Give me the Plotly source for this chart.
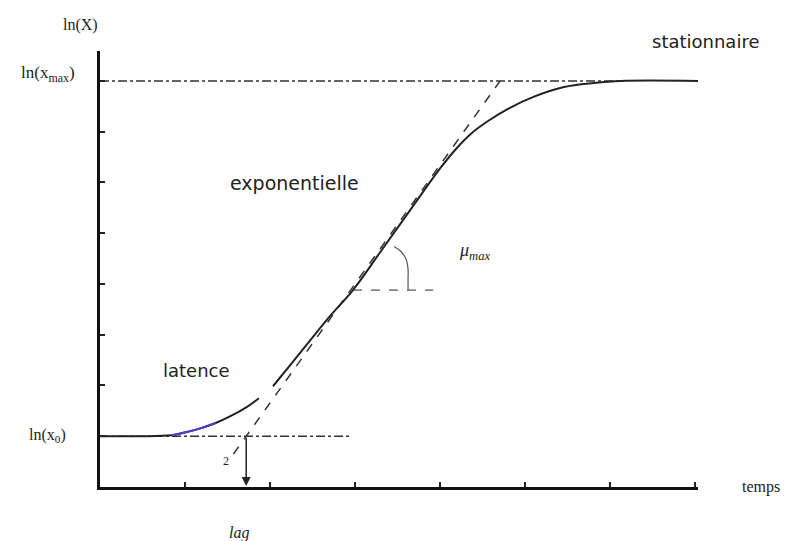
import plotly.graph_objects as go

# ---- data ----
latence_t = [0.0, 0.48, 0.84, 1.01, 1.19, 1.36, 1.54, 1.72, 1.87]
latence_y = [1.0, 1.0, 1.02, 1.08, 1.16, 1.26, 1.40, 1.57, 1.75]

croissance_t = [2.035, 2.247, 2.482, 2.718, 2.976, 3.306, 3.659, 4.012, 4.188,
                4.365, 4.565, 4.800, 5.106, 5.459, 5.812, 6.129, 7.035]
croissance_y = [1.985, 2.42, 2.91, 3.39, 3.88, 4.65, 5.48, 6.30, 6.66,
                6.96, 7.21, 7.45, 7.69, 7.88, 7.96, 8.0, 8.0]

surlignage_t = [0.84, 1.01, 1.19, 1.36]
surlignage_y = [1.02, 1.08, 1.16, 1.26]

ln_x0 = 1.0
ln_xmax = 8.0
lag = 1.72
mu_max = 2.344            # pente de la tangente
tangente_y = [0.65, 8.0]  # extension de la tangente

palier_t = [2.976, 3.92]
palier_y = [3.88, 3.88]
arc_t = [3.459, 3.541, 3.60, 3.624, 3.624, 3.624]
arc_y = [4.74, 4.64, 4.49, 4.29, 4.10, 3.88]

x0_line_t = [0.0, 2.95]
xmax_line_t = [0.0, 6.1]

x_ticks = [1, 2, 3, 4, 5, 6, 7]
y_ticks = [1, 2, 3, 4, 5, 6, 7, 8]

tangente_t = [lag + (v - ln_x0) / mu_max for v in tangente_y]

fig = go.Figure()

dash_col = "#333333"
fig.add_trace(go.Scatter(x=xmax_line_t, y=[ln_xmax, ln_xmax], mode="lines",
                         line=dict(color=dash_col, width=1.6, dash="dashdot"),
                         hoverinfo="skip", cliponaxis=False))
fig.add_trace(go.Scatter(x=x0_line_t, y=[ln_x0, ln_x0], mode="lines",
                         line=dict(color=dash_col, width=1.6, dash="dashdot"),
                         hoverinfo="skip", cliponaxis=False))
fig.add_trace(go.Scatter(x=tangente_t, y=tangente_y, mode="lines",
                         line=dict(color=dash_col, width=1.5, dash="dash"),
                         hoverinfo="skip"))
fig.add_trace(go.Scatter(x=palier_t, y=palier_y, mode="lines",
                         line=dict(color="#555555", width=1.2, dash="dash"),
                         hoverinfo="skip"))
fig.add_trace(go.Scatter(x=arc_t, y=arc_y, mode="lines", line_shape="spline",
                         line=dict(color="#555555", width=1.2),
                         hoverinfo="skip"))
fig.add_trace(go.Scatter(x=latence_t, y=latence_y, mode="lines", line_shape="spline",
                         line=dict(color="#222222", width=2),
                         hoverinfo="skip", cliponaxis=False))
fig.add_trace(go.Scatter(x=surlignage_t, y=surlignage_y, mode="lines", line_shape="spline",
                         line=dict(color="#4b3fd0", width=2),
                         hoverinfo="skip"))
fig.add_trace(go.Scatter(x=croissance_t, y=croissance_y, mode="lines", line_shape="spline",
                         line=dict(color="#222222", width=2),
                         hoverinfo="skip", cliponaxis=False))

serif = "Liberation Serif, DejaVu Serif, serif"
sans = "DejaVu Sans, Liberation Sans, sans-serif"

# text positions in paper coordinates
ann = [
    dict(x=-0.032, y=1.06, text="ln(X)", font=dict(family=serif, size=16)),
    dict(x=-0.087, y=0.947, text="ln(x<sub>max</sub>)", font=dict(family=serif, size=17)),
    dict(x=-0.087, y=0.117, text="ln(x<sub>0</sub>)", font=dict(family=serif, size=16)),
    dict(x=1.012, y=1.021, text="stationnaire", font=dict(family=sans, size=18)),
    dict(x=0.325, y=0.698, text="exponentielle", font=dict(family=sans, size=19)),
    dict(x=0.162, y=0.268, text="latence", font=dict(family=sans, size=18)),
    dict(x=0.627, y=0.541, text="<i>μ<sub>max</sub></i>", font=dict(family=serif, size=18)),
    dict(x=1.105, y=0.0, text="temps", font=dict(family=serif, size=16)),
    dict(x=0.232, y=-0.106, text="<i>lag</i>", font=dict(family=serif, size=16)),
    dict(x=0.21, y=0.06, text="2", font=dict(family=serif, size=12)),
]
for a in ann:
    fig.add_annotation(xref="paper", yref="paper", showarrow=False,
                       xanchor="center", yanchor="middle",
                       font_color="#222222", **a)

# flèche lag
fig.add_annotation(x=lag, y=0.02, ax=lag, ay=ln_x0, xref="x", yref="y",
                   axref="x", ayref="y", text="", showarrow=True,
                   arrowhead=2, arrowsize=1.2, arrowwidth=1.5, arrowcolor="#222222")

fig.update_layout(
    width=792, height=541,
    margin=dict(l=92, r=102, t=43, b=62),
    plot_bgcolor="white", paper_bgcolor="white",
    showlegend=False,
    xaxis=dict(range=[0, 7.035], showgrid=False, zeroline=False,
               showline=True, linecolor="#111111", linewidth=2.5,
               tickmode="array", tickvals=x_ticks, ticktext=[""] * len(x_ticks),
               ticks="inside", ticklen=5, tickcolor="#222222", tickwidth=1.5,
               fixedrange=True),
    yaxis=dict(range=[0, 8.59], showgrid=False, zeroline=False,
               showline=True, linecolor="#111111", linewidth=2.5,
               tickmode="array", tickvals=y_ticks, ticktext=[""] * len(y_ticks),
               ticks="inside", ticklen=5, tickcolor="#222222", tickwidth=1.5,
               fixedrange=True),
)

fig.write_html("out.html")
